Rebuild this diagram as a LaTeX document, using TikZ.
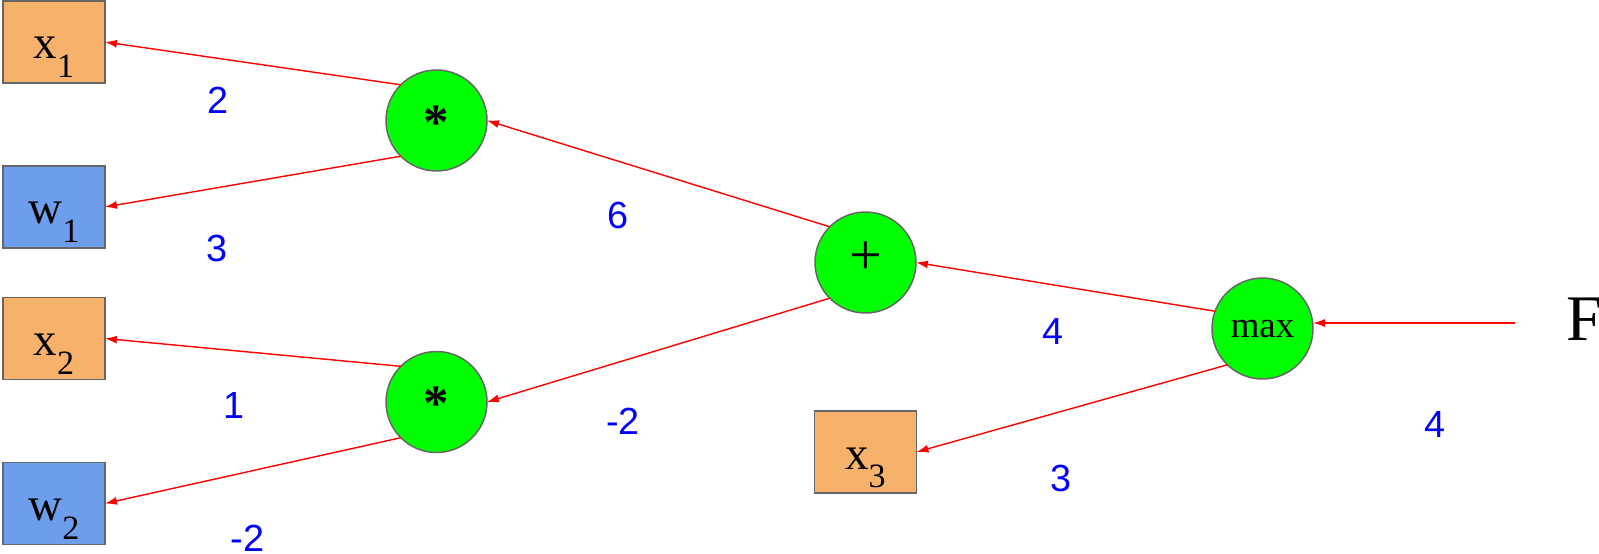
\documentclass[tikz,border=0pt]{standalone}
\usepackage{fontspec}
\setmainfont{Liberation Serif}
\newfontfamily\lsans{Liberation Sans}
\usetikzlibrary{arrows.meta}
\definecolor{boxorange}{HTML}{F6B26B}
\definecolor{boxblue}{HTML}{6D9EEB}
\definecolor{nodegreen}{HTML}{00FF00}
\definecolor{edgegray}{HTML}{666666}
\definecolor{lblblue}{HTML}{0000FF}
\definecolor{arrred}{HTML}{FF0000}
\newcommand{\subsc}[1]{\raisebox{-10.8pt}{\fontsize{19.4}{20}\selectfont #1}}
\begin{document}
\begin{tikzpicture}[x=0.02cm,y=-0.02cm,
  vbox/.style={draw=edgegray,line width=0.85pt,minimum width=2.04cm,minimum height=1.64cm,
    inner sep=0pt,outer sep=0pt,text height=19.35pt,text depth=0pt,
    font=\fontsize{26.7}{28}\selectfont},
  xbox/.style={vbox,fill=boxorange},
  wbox/.style={vbox,fill=boxblue},
  opnode/.style={circle,draw=edgegray,fill=nodegreen,line width=0.85pt,minimum size=2.02cm,
    inner sep=0pt,outer sep=0pt,text depth=0pt,font=\fontsize{29}{30}\selectfont},
  lbl/.style={text=lblblue,inner sep=0pt,font=\lsans\fontsize{21.5}{22}\selectfont},
  arr/.style={draw=arrred,line width=0.8pt,-{Latex[length=6.8pt,width=4.6pt]}}
]
\useasboundingbox (0,0) rectangle (1599,554);
% input boxes
\node[xbox] (x1) at (54,42) {x\subsc{1}};
\node[wbox] (w1) at (54,207) {w\subsc{1}};
\node[xbox] (x2) at (54,338.5) {x\subsc{2}};
\node[wbox] (w2) at (54,503.5) {w\subsc{2}};
\node[xbox] (x3) at (865.5,452) {x\subsc{3}};
% operation nodes
\node[opnode,text height=21.6pt,font=\bfseries\fontsize{29}{30}\selectfont] (m1) at (436.5,120.5) {*};
\node[opnode,text height=21.6pt,font=\bfseries\fontsize{29}{30}\selectfont] (m2) at (436.5,402) {*};
\node[opnode,text height=14pt,font=\fontsize{33}{34}\selectfont] (pl) at (865.5,262.5) {+};
\node[opnode,text height=9.7pt,font=\fontsize{21}{22}\selectfont] (mx) at (1262.5,328.5) {max};
% output
\node[anchor=base west,inner sep=0pt,font=\fontsize{37}{38}\selectfont] (F) at (1566,340) {F};
\coordinate (fs) at (1515,323);
% connectors
\draw[arr] (m1.135) -- (x1.east);
\draw[arr] (m1.225) -- (w1.east);
\draw[arr] (m2.135) -- (x2.east);
\draw[arr] (m2.225) -- (w2.east);
\draw[arr] (pl.135) -- (m1.east);
\draw[arr] (pl.225) -- (m2.east);
\draw[arr] (mx.160) -- (pl.east);
\draw[arr] (mx.226) -- (x3.east);
\draw[arr] (fs) -- (fs -| mx.east);
% gradient labels
\node[lbl] (g1) at (218,100) {2};
\node[lbl] (g2) at (217,248) {3};
\node[lbl] (g3) at (234,405.5) {1};
\node[lbl] (g4) at (247.5,538.5) {-2};
\node[lbl] (g5) at (618,215) {6};
\node[lbl] (g6) at (623,421) {-2};
\node[lbl] (g7) at (1053,332) {4};
\node[lbl] (g8) at (1061,478) {3};
\node[lbl] (g9) at (1435,425) {4};
\end{tikzpicture}
\end{document}
